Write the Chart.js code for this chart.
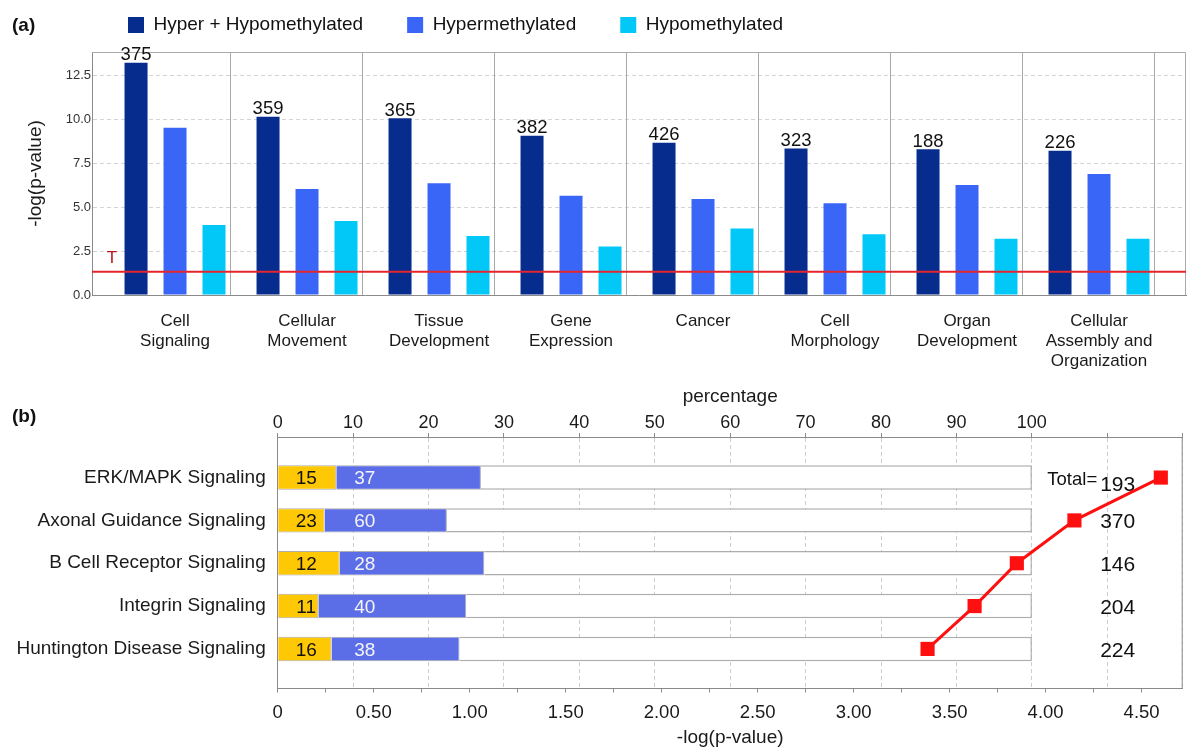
<!DOCTYPE html>
<html><head><meta charset="utf-8">
<script src="https://cdn.jsdelivr.net/npm/chart.js@4.4.1/dist/chart.umd.min.js"></script>
<style>
html,body{margin:0;padding:0;background:#fff;width:1200px;height:752px;overflow:hidden;}
#wrap{position:relative;width:1200px;height:752px;background:#fff;}
canvas{position:absolute;left:0;}
#c1{top:0;width:1200px;height:380px;}
#c2{top:380px;width:1200px;height:372px;}
.panel{position:absolute;font:bold 19px "Liberation Sans",Arial,sans-serif;color:#111;line-height:22px;}
</style></head><body>
<div id="wrap">
<canvas id="c1" width="1200" height="380"></canvas>
<canvas id="c2" width="1200" height="372"></canvas>
<div class="panel" style="left:12px;top:14px">(a)</div>
<div class="panel" style="left:12px;top:405px">(b)</div>
</div>
<script>
// ---------- data: panel (a) ----------
const categories = [['Cell','Signaling'],['Cellular','Movement'],['Tissue','Development'],['Gene','Expression'],['Cancer'],['Cell','Morphology'],['Organ','Development'],['Cellular','Assembly and','Organization']];
const seriesNames = ['Hyper + Hypomethylated','Hypermethylated','Hypomethylated'];
const hyperHypo = [13.25,10.17,10.08,9.09,8.69,8.35,8.31,8.23];
const hyper     = [9.54,6.05,6.37,5.66,5.48,5.23,6.27,6.90];
const hypo      = [3.99,4.22,3.37,2.76,3.80,3.46,3.21,3.21];
const moleculeCounts = [375,359,365,382,426,323,188,226];
const threshold = 1.33;
const yTickValues = [0,2.5,5,7.5,10,12.5];

// ---------- data: panel (b) ----------
const pathways = ['ERK/MAPK Signaling','Axonal Guidance Signaling','B Cell Receptor Signaling','Integrin Signaling','Huntington Disease Signaling'];
const downCounts = [15,23,12,11,16];
const upCounts   = [37,60,28,40,38];
const totals     = [193,370,146,204,224];
const negLogP    = [4.60,4.15,3.85,3.63,3.385];
const pctTickValues = [0,10,20,30,40,50,60,70,80,90,100,110,120];
const pctTickLabels = ['0','10','20','30','40','50','60','70','80','90','100','',''];
const pTickValues = [0,0.25,0.5,0.75,1,1.25,1.5,1.75,2,2.25,2.5,2.75,3,3.25,3.5,3.75,4,4.25,4.5];
const pTickLabels = ['0','','0.50','','1.00','','1.50','','2.00','','2.50','','3.00','','3.50','','4.00','','4.50'];

const FONT = '"Liberation Sans", Arial, Helvetica, sans-serif';
Chart.defaults.font.family = FONT;
Chart.defaults.color = '#1a1a1a';
Chart.defaults.animation = false;

const seriesColors = ['#062c8e','#3a66f7','#02c8f8'];
const AXIS = '#8a8a8a';

// ---------- panel (a) ----------
const legendPlacement = {
  id: 'legendPlacement',
  afterLayout(chart) {
    if (chart.legend) { chart.legend.left = 84; chart.legend.top = -28.5; }
  }
};
const topDecor = {
  id: 'topDecor',
  beforeDatasetsDraw(chart) {
    const {ctx, chartArea: a, scales: {x}} = chart;
    ctx.save();
    ctx.strokeStyle = '#a9a9a9'; ctx.lineWidth = 1;
    categories.forEach((c, i) => {
      const px = Math.round(x.getPixelForValue(i + 0.4167)) + 0.5;
      ctx.beginPath(); ctx.moveTo(px, a.top); ctx.lineTo(px, a.bottom); ctx.stroke();
    });
    ctx.beginPath();
    ctx.moveTo(a.left, a.top + 0.5); ctx.lineTo(a.right - 0.5, a.top + 0.5); ctx.lineTo(a.right - 0.5, a.bottom);
    ctx.stroke();
    ctx.restore();
  },
  afterDatasetsDraw(chart) {
    const {ctx, chartArea: a, scales: {y}} = chart;
    const ty = y.getPixelForValue(threshold);
    ctx.save();
    ctx.strokeStyle = '#e4262c'; ctx.lineWidth = 2;
    ctx.beginPath(); ctx.moveTo(a.left, ty); ctx.lineTo(a.right, ty); ctx.stroke();
    ctx.fillStyle = '#c0141c'; ctx.font = '17px ' + FONT;
    ctx.textAlign = 'center'; ctx.textBaseline = 'middle';
    ctx.fillText('T', a.left + 20, ty - 13);
    const meta = chart.getDatasetMeta(0);
    ctx.fillStyle = '#111'; ctx.font = '18.5px ' + FONT; ctx.textBaseline = 'alphabetic';
    meta.data.forEach((bar, i) => ctx.fillText(String(moleculeCounts[i]), bar.x, bar.y - 2.5));
    ctx.restore();
  }
};

new Chart(document.getElementById('c1'), {
  type: 'bar',
  data: {
    datasets: [hyperHypo, hyper, hypo].map((arr, k) => ({
      label: seriesNames[k],
      data: arr.map((v, i) => ({x: i, y: v})),
      backgroundColor: seriesColors[k],
      borderWidth: 0,
      barPercentage: 0.59,
      categoryPercentage: 0.886
    }))
  },
  options: {
    responsive: false, devicePixelRatio: 1, animation: false,
    layout: {padding: {left: 0, right: 14, top: 0, bottom: 0}},
    plugins: {
      tooltip: {enabled: false},
      legend: {
        display: true, position: 'top', align: 'start', maxHeight: 52,
        labels: {boxWidth: 16, boxHeight: 16, padding: 44, color: '#111', font: {size: 19}}
      }
    },
    scales: {
      x: {
        type: 'linear', min: -0.629, max: 7.659, offset: false,
        afterBuildTicks: s => { s.ticks = categories.map((c, i) => ({value: i})); },
        afterFit: s => { s.height = 85; },
        grid: {display: false, drawTicks: false, offset: false},
        border: {display: true, color: AXIS, width: 1},
        ticks: {callback: v => categories[v] || '', font: {size: 17, lineHeight: 1.15}, color: '#1a1a1a', padding: 17, maxRotation: 0, autoSkip: false}
      },
      y: {
        type: 'linear', min: 0, max: 13.86,
        afterBuildTicks: s => { s.ticks = yTickValues.map(v => ({value: v})); },
        afterFit: s => { s.width = 92; },
        grid: {color: '#d4d4d4', drawTicks: false, lineWidth: 1},
        border: {display: true, color: AXIS, dash: [4, 3]},
        ticks: {callback: v => Number(v).toFixed(1), font: {size: 13}, color: '#333', padding: 1},
        title: {display: true, text: '-log(p-value)', font: {size: 19}, color: '#1a1a1a', padding: {top: 24, bottom: 0}}
      }
    }
  },
  plugins: [legendPlacement, topDecor]
});

// ---------- panel (b) ----------
const pctDown = downCounts.map((d, i) => d / totals[i] * 100);
const pctUp = upCounts.map((u, i) => u / totals[i] * 100);
const pctRest = totals.map((t, i) => 100 - pctDown[i] - pctUp[i]);

const bottomDecor = {
  id: 'bottomDecor',
  beforeDatasetsDraw(chart) {
    const {ctx, chartArea: a, scales: {y}} = chart;
    ctx.save();
    ctx.strokeStyle = AXIS; ctx.lineWidth = 1;
    ctx.beginPath(); ctx.moveTo(a.right - 0.5, a.top); ctx.lineTo(a.right - 0.5, a.bottom); ctx.stroke();
    ctx.fillStyle = '#111'; ctx.textAlign = 'center'; ctx.textBaseline = 'middle';
    ctx.font = '21px ' + FONT;
    totals.forEach((t, i) => {
      ctx.fillText(String(t), a.right - 65, y.getPixelForValue(i) + (i === 0 ? 8 : 2));
    });
    ctx.textAlign = 'right'; ctx.font = '18.5px ' + FONT;
    ctx.fillText('Total=', a.right - 85.5, y.getPixelForValue(0) + 2);
    ctx.restore();
  },
  afterDatasetsDraw(chart) {
    const {ctx, chartArea: a, scales: {y}} = chart;
    ctx.save();
    ctx.textAlign = 'center'; ctx.textBaseline = 'middle'; ctx.font = '19px ' + FONT;
    pathways.forEach((p, i) => {
      const cy = y.getPixelForValue(i) + 1.5;
      ctx.fillStyle = '#111'; ctx.fillText(String(downCounts[i]), a.left + 28.5, cy);
      ctx.fillStyle = '#f4f4f4'; ctx.fillText(String(upCounts[i]), a.left + 87, cy);
    });
    ctx.restore();
  }
};

const barCommon = {xAxisID: 'xPct', yAxisID: 'y', indexAxis: 'y', barPercentage: 0.57, categoryPercentage: 1, borderColor: '#adadad', borderWidth: 1, order: 1};

new Chart(document.getElementById('c2'), {
  type: 'bar',
  data: {
    datasets: [
      {type: 'line', label: '-log(p-value)', indexAxis: 'y', xAxisID: 'xP', yAxisID: 'y',
       data: negLogP.map((v, i) => ({x: v, y: i})),
       borderColor: '#ff1010', backgroundColor: '#ff1010', borderWidth: 3,
       pointStyle: 'rect', pointRadius: 10, pointBorderWidth: 0, order: 0, clip: false},
      Object.assign({label: 'down', data: pctDown.map((v, i) => ({x: v, y: i})), backgroundColor: '#ffc805'}, barCommon),
      Object.assign({label: 'up', data: pctUp.map((v, i) => ({x: v, y: i})), backgroundColor: '#5b6ee8'}, barCommon),
      Object.assign({label: 'rest', data: pctRest.map((v, i) => ({x: v, y: i})), backgroundColor: '#ffffff'}, barCommon, {borderWidth: 1.5})
    ]
  },
  options: {
    responsive: false, devicePixelRatio: 1, animation: false, indexAxis: 'y',
    layout: {padding: {left: 0, right: 17.3, top: 0, bottom: 0}},
    plugins: {tooltip: {enabled: false}, legend: {display: false}},
    scales: {
      y: {
        type: 'linear', reverse: true, min: -0.947, max: 4.924, stacked: true, offset: false,
        afterBuildTicks: s => { s.ticks = pathways.map((p, i) => ({value: i})); },
        afterFit: s => { s.width = 277.7; },
        grid: {display: false, drawTicks: false, offset: false},
        border: {display: true, color: AXIS},
        ticks: {callback: v => pathways[v] || '', font: {size: 19}, color: '#1a1a1a', padding: 12, autoSkip: false}
      },
      xPct: {
        type: 'linear', position: 'top', min: 0, max: 120, stacked: true, offset: false,
        afterBuildTicks: s => { s.ticks = pctTickValues.map(v => ({value: v})); },
        afterFit: s => { s.height = 57; },
        grid: {color: '#cdcdcd', drawTicks: true, tickLength: 4, tickColor: AXIS, tickBorderDash: []},
        border: {display: true, color: AXIS, dash: [4, 3]},
        ticks: {callback: (v, idx) => pctTickLabels[idx], font: {size: 18, lineHeight: 1}, color: '#1a1a1a', padding: 1, maxRotation: 0, autoSkip: false},
        title: {display: true, text: 'percentage', font: {size: 19}, color: '#1a1a1a', padding: {top: 5, bottom: 0}}
      },
      xP: {
        type: 'linear', position: 'bottom', min: 0, max: 4.714, offset: false,
        afterBuildTicks: s => { s.ticks = pTickValues.map(v => ({value: v})); },
        afterFit: s => { s.height = 63.5; },
        grid: {drawOnChartArea: false, drawTicks: true, tickLength: 4, tickColor: AXIS, tickBorderDash: []},
        border: {display: true, color: AXIS},
        ticks: {callback: (v, idx) => pTickLabels[idx], font: {size: 18.5, lineHeight: 1}, color: '#1a1a1a', padding: 11.5, maxRotation: 0, autoSkip: false},
        title: {display: true, text: '-log(p-value)', font: {size: 19}, color: '#1a1a1a', padding: {top: 0, bottom: 2.6}}
      }
    }
  },
  plugins: [bottomDecor]
});
</script>
</body></html>
